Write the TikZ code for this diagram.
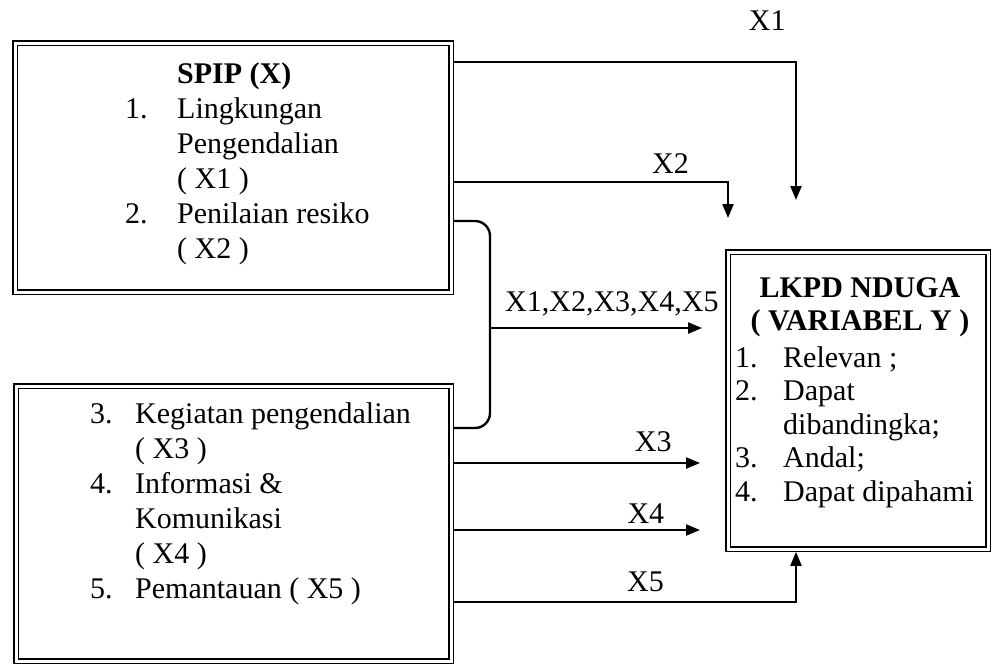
\documentclass[tikz,border=0pt]{standalone}
\usepackage{fontspec}
\setmainfont{Liberation Serif}
\usetikzlibrary{arrows.meta,calc}
\tikzset{
box/.style={draw=black,double,double distance=3pt,line width=1.3pt,rectangle,inner sep=0pt,outer sep=2.8pt},
content/.style={inner sep=0pt,anchor=base west,font=\fontsize{30}{35}\selectfont},
flow/.style={line width=2.4pt,draw=black,-{Triangle[length=14pt,width=11pt]}},
bracket/.style={line width=2.4pt,draw=black,rounded corners=15pt},
varlabel/.style={inner sep=0pt,font=\fontsize{30}{35}\selectfont},
}

\begin{document}
\begin{tikzpicture}[x=1pt,y=-1pt]
\useasboundingbox (0,0) rectangle (993,665);

\node[box,minimum width=436pt,minimum height=249pt] (spip) at (233,167.5) {};
\node[box,minimum width=435pt,minimum height=275pt] (keg) at (233.5,523.5) {};
\node[box,minimum width=260pt,minimum height=297pt] (lkpd) at (858,400.5) {};

\node[content] (spiptext) at (125,83) {%
\begin{tabular}[t]{@{}p{52pt}@{}l@{}}
 & \textbf{SPIP (X)}\\
1. & Lingkungan\\
 & Pengendalian\\
 & ( X1 )\\
2. & Penilaian resiko\\
 & ( X2 )
\end{tabular}};

\node[content] (kegtext) at (90,423) {%
\begin{tabular}[t]{@{}p{45pt}@{}l@{}}
3. & Kegiatan pengendalian\\
 & ( X3 )\\
4. & Informasi \&\\
 & Komunikasi\\
 & ( X4 )\\
5. & Pemantauan ( X5 )
\end{tabular}};

\node[content,anchor=base,font=\fontsize{30}{33.5}\selectfont\bfseries] (ytitle) at (860,297) {%
\begin{tabular}[t]{@{}c@{}}
LKPD NDUGA\\
( VARIABEL Y )
\end{tabular}};

\node[content,font=\fontsize{30}{33.5}\selectfont] (ytext) at (735,367) {%
\begin{tabular}[t]{@{}p{48pt}@{}l@{}}
1. & Relevan ;\\
2. & Dapat\\
 & dibandingka;\\
3. & Andal;\\
4. & Dapat dipahami
\end{tabular}};

\coordinate (x1end) at (796,200);
\coordinate (x2end) at (728,218);
\coordinate (x3end) at (700,463);
\coordinate (x4end) at (700,530);
\coordinate (brmid) at (490,328);
\coordinate (allend) at (702,328);

\draw[flow] (spip.east |- 0,62) -| node[varlabel,above=30pt,pos=0.458] {X1} (x1end);
\draw[flow] (spip.east |- 0,182) -| node[varlabel,above=7pt,pos=0.395] {X2} (x2end);
\draw[bracket] (spip.east |- 0,221) -| (brmid) |- (keg.east |- 0,428);
\draw[flow] (brmid) -- node[varlabel,above=11pt,pos=0.575] {X1,X2,X3,X4,X5} (allend);
\draw[flow] (keg.east |- 0,463) -- node[varlabel,above=10pt,pos=0.81] {X3} (x3end);
\draw[flow] (keg.east |- 0,530) -- node[varlabel,above=5pt,pos=0.78] {X4} (x4end);
\draw[flow] (keg.east |- 0,602) -| node[varlabel,above=9pt,pos=0.28] {X5} (lkpd.south -| x1end);
\end{tikzpicture}
\end{document}
